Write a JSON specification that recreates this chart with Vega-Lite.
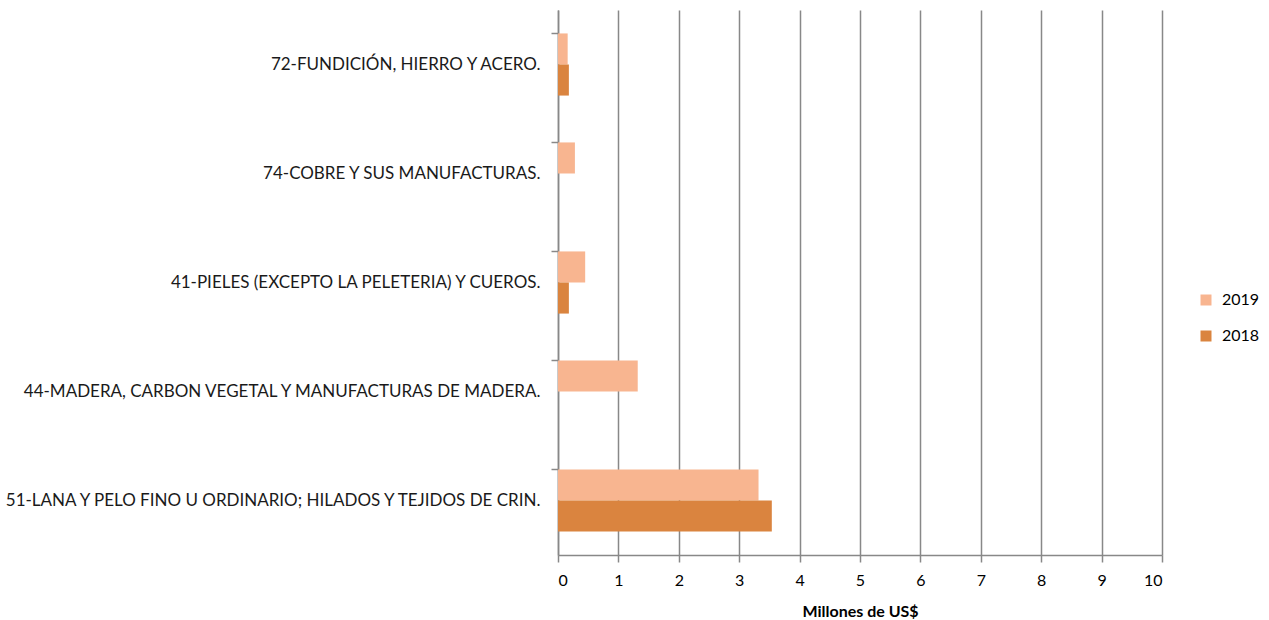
{
  "$schema": "https://vega.github.io/schema/vega-lite/v6.json",
  "width": 604,
  "height": 545,
  "autosize": {"type": "none"},
  "padding": {"left": 558, "top": 10, "right": 107, "bottom": 65},
  "background": "white",
  "config": {
    "view": {"stroke": null},
    "font": "Lato",
    "axis": {"labelFont": "Lato", "titleFont": "Lato"},
    "legend": {"labelFont": "Lato"}
  },
  "data": {
    "values": [
      {"category": "72-FUNDICIÓN, HIERRO Y ACERO.", "year": "2019", "value": 0.16},
      {"category": "72-FUNDICIÓN, HIERRO Y ACERO.", "year": "2018", "value": 0.18},
      {"category": "74-COBRE Y SUS MANUFACTURAS.", "year": "2019", "value": 0.28},
      {"category": "74-COBRE Y SUS MANUFACTURAS.", "year": "2018", "value": 0},
      {"category": "41-PIELES (EXCEPTO LA PELETERIA) Y CUEROS.", "year": "2019", "value": 0.45},
      {"category": "41-PIELES (EXCEPTO LA PELETERIA) Y CUEROS.", "year": "2018", "value": 0.18},
      {"category": "44-MADERA, CARBON VEGETAL Y MANUFACTURAS DE MADERA.", "year": "2019", "value": 1.32},
      {"category": "44-MADERA, CARBON VEGETAL Y MANUFACTURAS DE MADERA.", "year": "2018", "value": 0},
      {"category": "51-LANA Y PELO FINO U ORDINARIO; HILADOS Y TEJIDOS DE CRIN.", "year": "2019", "value": 3.32},
      {"category": "51-LANA Y PELO FINO U ORDINARIO; HILADOS Y TEJIDOS DE CRIN.", "year": "2018", "value": 3.54}
    ]
  },
  "mark": {"type": "bar"},
  "encoding": {
    "y": {
      "field": "category",
      "type": "nominal",
      "sort": [
        "72-FUNDICIÓN, HIERRO Y ACERO.",
        "74-COBRE Y SUS MANUFACTURAS.",
        "41-PIELES (EXCEPTO LA PELETERIA) Y CUEROS.",
        "44-MADERA, CARBON VEGETAL Y MANUFACTURAS DE MADERA.",
        "51-LANA Y PELO FINO U ORDINARIO; HILADOS Y TEJIDOS DE CRIN."
      ],
      "scale": {"paddingInner": 0.43, "paddingOuter": 0.215},
      "axis": {
        "title": null,
        "bandPosition": 0,
        "tickSize": 7,
        "tickColor": "#888888",
        "tickWidth": 1.5,
        "domainColor": "#888888",
        "domainWidth": 1.5,
        "labelPadding": 11,
        "labelFontSize": 17,
        "labelColor": "#1a1a1a",
        "labelLimit": 700,
        "grid": false
      }
    },
    "yOffset": {"field": "year", "type": "nominal", "sort": ["2019", "2018"]},
    "x": {
      "field": "value",
      "type": "quantitative",
      "scale": {"domain": [0, 10], "nice": false},
      "axis": {
        "title": "Millones de US$",
        "titleFontSize": 16,
        "titleFontWeight": "bold",
        "titleColor": "#000000",
        "titlePadding": 15,
        "values": [0, 1, 2, 3, 4, 5, 6, 7, 8, 9, 10],
        "tickSize": 7,
        "tickColor": "#888888",
        "tickWidth": 1.5,
        "domainColor": "#888888",
        "domainWidth": 1.5,
        "labelFontSize": 16,
        "labelColor": "#000000",
        "labelPadding": 10,
        "grid": true,
        "gridColor": "#888888",
        "gridWidth": 1.5
      }
    },
    "color": {
      "field": "year",
      "type": "nominal",
      "scale": {"domain": ["2019", "2018"], "range": ["#F8B590", "#DA843F"]},
      "legend": {
        "title": null,
        "orient": "none",
        "legendX": 640,
        "legendY": 282,
        "symbolType": "square",
        "symbolSize": 121,
        "symbolStrokeWidth": 0,
        "labelFontSize": 16,
        "labelColor": "#000000",
        "rowPadding": 20,
        "labelOffset": 8
      }
    }
  }
}
